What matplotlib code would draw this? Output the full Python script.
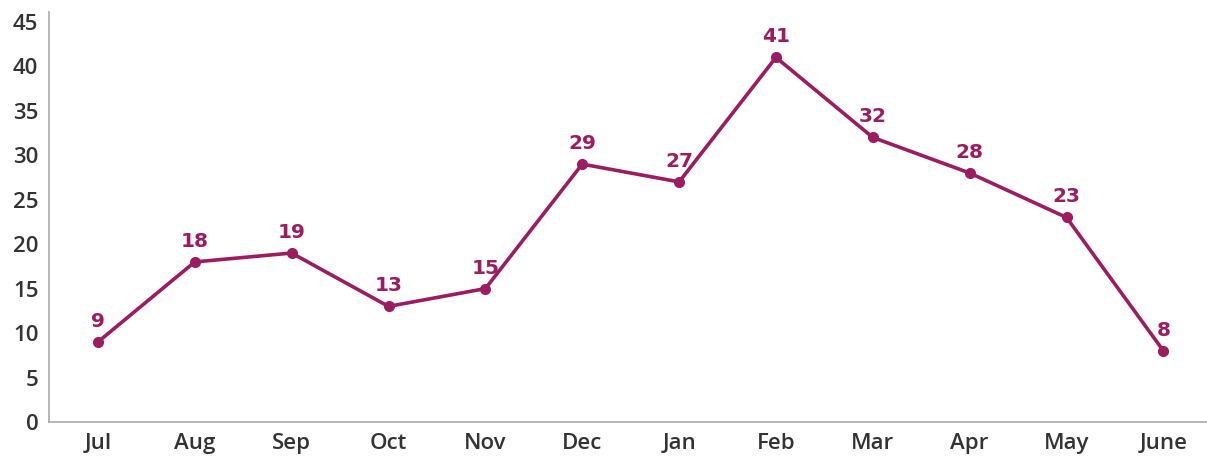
import matplotlib
matplotlib.use("Agg")
import matplotlib.pyplot as plt

# monthly values
MONTHS = ["Jul", "Aug", "Sep", "Oct", "Nov", "Dec",
          "Jan", "Feb", "Mar", "Apr", "May", "June"]
VALUES = [9, 18, 19, 13, 15, 29, 27, 41, 32, 28, 23, 8]
Y_TICKS = [0, 5, 10, 15, 20, 25, 30, 35, 40, 45]

LINE_COLOR = "#9c1c60"
TEXT_COLOR = "#333333"
AXIS_COLOR = "#aaaaaa"

plt.rcParams["font.family"] = ["Open Sans", "DejaVu Sans"]

fig = plt.figure(figsize=(12.07, 4.57), dpi=100)
ax = fig.add_axes([0.041, 0.0766, 0.959, 0.897])

xs = list(range(len(MONTHS)))
ax.plot(xs, VALUES, color=LINE_COLOR, lw=2.6, marker="o", ms=7,
        solid_capstyle="round", zorder=3)

for x, v in zip(xs, VALUES):
    ax.annotate(f"{v}", (x, v), xytext=(0, 8), textcoords="offset points",
                ha="center", va="bottom", fontsize=14.5, fontweight="bold",
                family="DejaVu Sans", color=LINE_COLOR)

ax.set_xlim(-0.5, 11.45)
ax.set_ylim(0, 46.1)
ax.set_xticks(xs)
ax.set_xticklabels(MONTHS)
ax.set_yticks(Y_TICKS)

for s in ("top", "right"):
    ax.spines[s].set_visible(False)
for s in ("left", "bottom"):
    ax.spines[s].set_color(AXIS_COLOR)
    ax.spines[s].set_linewidth(1.2)

ax.tick_params(axis="both", length=0, labelsize=16, labelcolor=TEXT_COLOR)
ax.tick_params(axis="y", pad=8)
ax.tick_params(axis="x", pad=8)
for lbl in ax.get_xticklabels() + ax.get_yticklabels():
    lbl.set_fontweight(600)

fig.savefig("out.png", dpi=100)
